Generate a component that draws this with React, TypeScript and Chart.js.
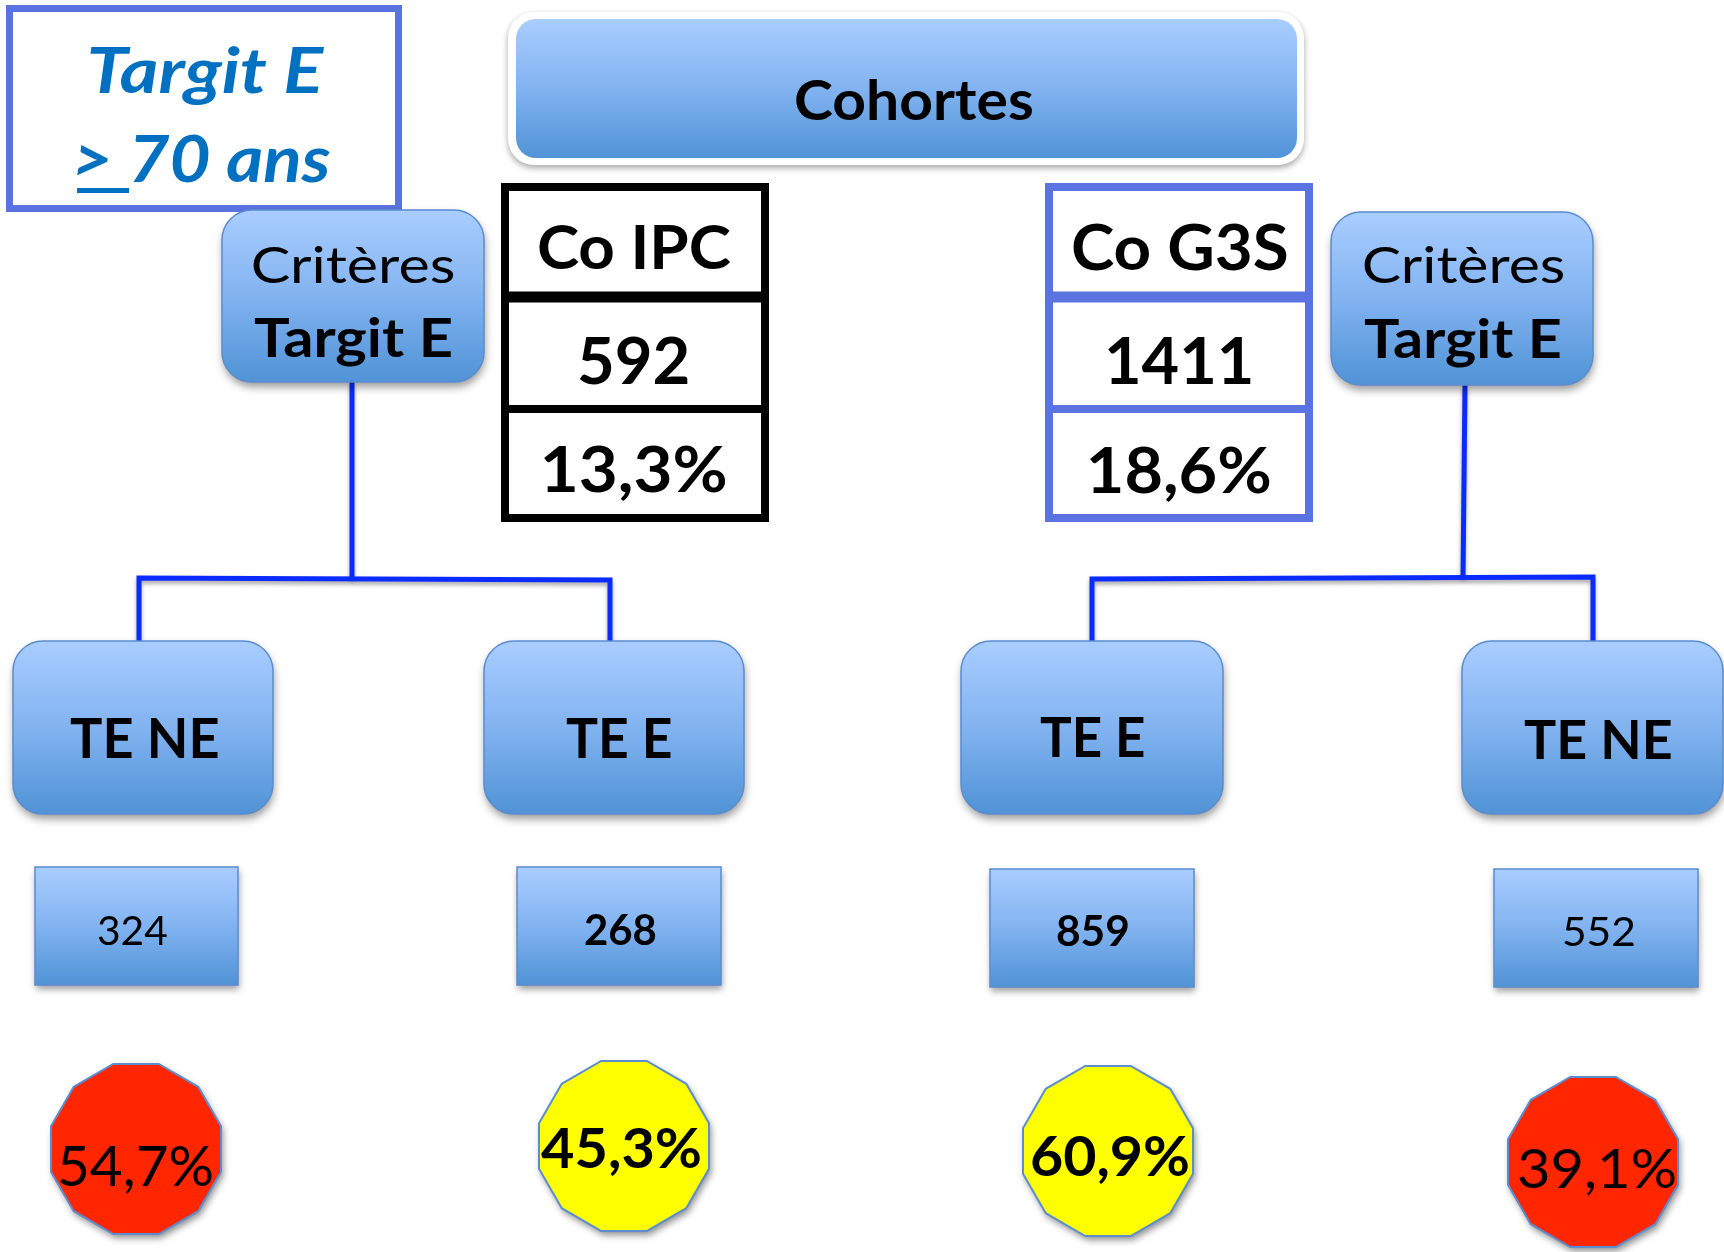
import React, { useEffect, useRef } from "react";
import { Chart, registerables } from "chart.js";

Chart.register(...registerables);

// ---------------- DATA ----------------
const headerTitle = "Cohortes";
const cornerTitle = "Targit E";
const cornerSubtitle = "> 70 ans";
const criteriaLines = ["Critères", "Targit E"];
const cohortNames = ["Co IPC", "Co G3S"];
const cohortTotals = [592, 1411];
const cohortPercents = [13.3, 18.6];
const groupLabels = ["TE NE", "TE E", "TE E", "TE NE"];
const groupCounts = [324, 268, 859, 552];
const groupPercents = [54.7, 45.3, 60.9, 39.1];

// ---------------- LAYOUT (page pixels) ----------------
const W = 1724;
const H = 1252;
const FAMILY = "Lato, 'Open Sans', sans-serif";

type Box = [number, number, number, number]; // x0, y0, x1, y1
type TBox = [number, number, number, number]; // ink x0, x1, capTop, baseline

const cornerFrame: Box = [6, 5, 402, 212];
const cornerTitleBox: TBox = [90, 325, 47, 93];
const cornerSubBox: TBox = [77, 330, 135, 182];
const cornerUnderline: Box = [77, 188, 129, 193];

const headerOuter: Box = [508, 12, 1304, 165];
const headerInner: Box = [516, 19, 1297, 158];
const headerTextBox: TBox = [796, 1032, 79, 120];

const criteriaFrames: Box[] = [
  [222, 210, 484, 382],
  [1331, 212, 1593, 385],
];
const criteriaText: TBox[][] = [
  [
    [253, 453, 246, 283],
    [254, 451, 318, 357],
  ],
  [
    [1364, 1563, 246, 283],
    [1364, 1560, 319, 358],
  ],
];

const tableX: [number, number][] = [
  [501, 769],
  [1045, 1313],
];
const tableRows = [183, 297, 409, 522];
const tableColors = ["#000000", "#5A73E1"];
const tableText: TBox[][] = [
  [
    [539, 731, 224, 269],
    [579, 688, 337, 384],
    [544, 726, 446, 492],
  ],
  [
    [1073, 1287, 224, 270],
    [1108, 1251, 337, 384],
    [1090, 1270, 447, 493],
  ],
];

const connectors: [number, number][][] = [
  [[352, 382], [352, 578]],
  [[139, 641], [139, 578], [610, 580], [610, 641]],
  [[1465, 385], [1463, 577]],
  [[1092, 641], [1092, 579], [1593, 577], [1593, 641]],
];

const groupFrames: Box[] = [
  [13, 641, 273, 814],
  [484, 641, 744, 814],
  [961, 641, 1223, 814],
  [1462, 641, 1723, 814],
];
const groupText: TBox[] = [
  [70, 218, 718, 758],
  [566, 671, 718, 758],
  [1040, 1144, 717, 757],
  [1524, 1671, 720, 759],
];
const countFrames: Box[] = [
  [35, 867, 238, 985],
  [517, 867, 721, 985],
  [990, 869, 1194, 987],
  [1494, 869, 1698, 987],
];
const countText: TBox[] = [
  [98, 167, 915, 945],
  [585, 656, 915, 945],
  [1057, 1128, 916, 946],
  [1564, 1634, 916, 946],
];
const badgeCenters: [number, number][] = [
  [136, 1149],
  [624, 1146],
  [1108, 1151],
  [1593, 1162],
];
const badgeRadius = 88;
const badgeText: TBox[] = [
  [60, 212, 1145, 1186],
  [541, 700, 1127, 1168],
  [1032, 1188, 1136, 1176],
  [1519, 1675, 1148, 1188],
];

const fmtPct = (v: number) => v.toFixed(1).replace(".", ",") + "%";
const isEligible = (label: string) => label === "TE E";

// ---------------- DRAW HELPERS ----------------
function roundRectPath(ctx: CanvasRenderingContext2D, x: number, y: number, w: number, h: number, r: number) {
  ctx.beginPath();
  ctx.moveTo(x + r, y);
  ctx.arcTo(x + w, y, x + w, y + h, r);
  ctx.arcTo(x + w, y + h, x, y + h, r);
  ctx.arcTo(x, y + h, x, y, r);
  ctx.arcTo(x, y, x + w, y, r);
  ctx.closePath();
}

function blueGradient(ctx: CanvasRenderingContext2D, y0: number, y1: number) {
  const g = ctx.createLinearGradient(0, y0, 0, y1);
  g.addColorStop(0, "#A9CDFF");
  g.addColorStop(0.5, "#82B3F0");
  g.addColorStop(1, "#5093D6");
  return g;
}

function fitText(
  ctx: CanvasRenderingContext2D,
  text: string,
  x0: number,
  x1: number,
  top: number,
  base: number,
  weight: string,
  style: string,
  color: string
) {
  ctx.save();
  ctx.font = `${style} ${weight} 100px ${FAMILY}`;
  const cap = ctx.measureText("H").actualBoundingBoxAscent || 72;
  const size = ((base - top) / cap) * 100;
  ctx.font = `${style} ${weight} ${size}px ${FAMILY}`;
  ctx.textAlign = "left";
  ctx.textBaseline = "alphabetic";
  const m = ctx.measureText(text);
  const ink = m.actualBoundingBoxLeft + m.actualBoundingBoxRight;
  const sx = ink > 0 ? (x1 - x0) / ink : 1;
  ctx.translate(x0, base);
  ctx.scale(sx, 1);
  ctx.fillStyle = color;
  ctx.fillText(text, m.actualBoundingBoxLeft, 0);
  ctx.restore();
}

function makeBadge(fill: string, r: number): HTMLCanvasElement {
  const pad = 16;
  const size = Math.ceil(2 * (r + pad));
  const c = document.createElement("canvas");
  c.width = size;
  c.height = size;
  const ctx = c.getContext("2d")!;
  const cx = size / 2;
  const cy = size / 2;
  const path = () => {
    ctx.beginPath();
    for (let k = 0; k < 12; k++) {
      const a = ((15 + 30 * k) * Math.PI) / 180;
      const x = cx + r * Math.cos(a);
      const y = cy + r * Math.sin(a);
      if (k === 0) ctx.moveTo(x, y);
      else ctx.lineTo(x, y);
    }
    ctx.closePath();
  };
  ctx.save();
  path();
  ctx.shadowColor = "rgba(0,0,0,0.45)";
  ctx.shadowBlur = 7;
  ctx.shadowOffsetX = 2;
  ctx.shadowOffsetY = 4;
  ctx.fillStyle = fill;
  ctx.fill();
  ctx.restore();
  path();
  ctx.lineWidth = 2;
  ctx.strokeStyle = "#5B8DD0";
  ctx.stroke();
  return c;
}

// ---------------- COMPONENT ----------------
export default function App() {
  const ref = useRef<HTMLCanvasElement | null>(null);

  useEffect(() => {
    document.body.style.margin = "0";
    const canvas = ref.current;
    if (!canvas) return;

    const badgeImages = groupLabels.map((l) => makeBadge(isEligible(l) ? "#FFFF00" : "#FF2600", badgeRadius));

    const diagram = {
      id: "diagram",
      beforeDatasetsDraw(chart: any) {
        const ctx: CanvasRenderingContext2D = chart.ctx;
        const X = (v: number) => chart.scales.x.getPixelForValue(v);
        const Y = (v: number) => chart.scales.y.getPixelForValue(v);
        const T = (b: TBox) => [X(b[0]), X(b[1]), Y(b[2]), Y(b[3])] as const;

        ctx.save();
        ctx.fillStyle = "#FFFFFF";
        ctx.fillRect(0, 0, chart.width, chart.height);

        // corner frame
        {
          const [x0, y0, x1, y1] = cornerFrame;
          const lw = 7;
          ctx.lineWidth = lw;
          ctx.strokeStyle = "#5A73E1";
          ctx.strokeRect(X(x0) + lw / 2, Y(y0) + lw / 2, X(x1) - X(x0) - lw, Y(y1) - Y(y0) - lw);
          const t1 = T(cornerTitleBox);
          fitText(ctx, cornerTitle, t1[0], t1[1], t1[2], t1[3], "bold", "italic", "#0070C0");
          const t2 = T(cornerSubBox);
          fitText(ctx, cornerSubtitle, t2[0], t2[1], t2[2], t2[3], "bold", "italic", "#0070C0");
          const u = cornerUnderline;
          ctx.fillStyle = "#0070C0";
          ctx.fillRect(X(u[0]), Y(u[1]), X(u[2]) - X(u[0]), Y(u[3]) - Y(u[1]));
        }

        // header
        {
          const o = headerOuter;
          ctx.save();
          roundRectPath(ctx, X(o[0]), Y(o[1]), X(o[2]) - X(o[0]), Y(o[3]) - Y(o[1]), 26);
          ctx.shadowColor = "rgba(0,0,0,0.35)";
          ctx.shadowBlur = 6;
          ctx.shadowOffsetY = 3;
          ctx.fillStyle = "#FFFFFF";
          ctx.fill();
          ctx.restore();
          const b = headerInner;
          roundRectPath(ctx, X(b[0]), Y(b[1]), X(b[2]) - X(b[0]), Y(b[3]) - Y(b[1]), 20);
          ctx.fillStyle = blueGradient(ctx, Y(b[1]), Y(b[3]));
          ctx.fill();
          const t = T(headerTextBox);
          fitText(ctx, headerTitle, t[0], t[1], t[2], t[3], "bold", "normal", "#000");
        }

        // connectors
        ctx.save();
        ctx.strokeStyle = "#0A2BFF";
        ctx.lineWidth = 5;
        ctx.lineCap = "butt";
        ctx.lineJoin = "miter";
        ctx.shadowColor = "rgba(0,0,0,0.35)";
        ctx.shadowBlur = 4;
        ctx.shadowOffsetY = 3;
        connectors.forEach((pts) => {
          ctx.beginPath();
          pts.forEach(([x, y], i) => (i === 0 ? ctx.moveTo(X(x), Y(y)) : ctx.lineTo(X(x), Y(y))));
          ctx.stroke();
        });
        ctx.restore();

        // blue rounded boxes (criteria + groups)
        const roundBox = (b: Box, r: number) => {
          const x = X(b[0]), y = Y(b[1]), w = X(b[2]) - X(b[0]), h = Y(b[3]) - Y(b[1]);
          ctx.save();
          roundRectPath(ctx, x, y, w, h, r);
          ctx.shadowColor = "rgba(0,0,0,0.4)";
          ctx.shadowBlur = 8;
          ctx.shadowOffsetX = 1;
          ctx.shadowOffsetY = 5;
          ctx.fillStyle = blueGradient(ctx, y, y + h);
          ctx.fill();
          ctx.restore();
          roundRectPath(ctx, x, y, w, h, r);
          ctx.lineWidth = 1.5;
          ctx.strokeStyle = "#5B8CCF";
          ctx.stroke();
        };

        criteriaFrames.forEach((b, i) => {
          roundBox(b, 30);
          const [a, c] = criteriaText[i];
          const ta = T(a);
          fitText(ctx, criteriaLines[0], ta[0], ta[1], ta[2], ta[3], "normal", "normal", "#000");
          const tc = T(c);
          fitText(ctx, criteriaLines[1], tc[0], tc[1], tc[2], tc[3], "bold", "normal", "#000");
        });

        // cohort tables
        tableX.forEach(([x0, x1], i) => {
          const col = tableColors[i];
          const lw = 8;
          const y0 = tableRows[0];
          const y1 = tableRows[tableRows.length - 1];
          ctx.fillStyle = "#FFFFFF";
          ctx.fillRect(X(x0), Y(y0), X(x1) - X(x0), Y(y1) - Y(y0));
          ctx.strokeStyle = col;
          ctx.lineWidth = lw;
          ctx.strokeRect(X(x0) + lw / 2, Y(y0) + lw / 2, X(x1) - X(x0) - lw, Y(y1) - Y(y0) - lw);
          [tableRows[1], tableRows[2]].forEach((ry, k) => {
            ctx.lineWidth = k === 0 ? 11 : 8;
            ctx.beginPath();
            ctx.moveTo(X(x0), Y(ry));
            ctx.lineTo(X(x1), Y(ry));
            ctx.stroke();
          });
          const texts = [cohortNames[i], String(cohortTotals[i]), fmtPct(cohortPercents[i])];
          texts.forEach((s, k) => {
            const t = T(tableText[i][k]);
            fitText(ctx, s, t[0], t[1], t[2], t[3], "bold", "normal", "#000");
          });
        });

        // groups
        groupFrames.forEach((b, i) => {
          roundBox(b, 30);
          const t = T(groupText[i]);
          fitText(ctx, groupLabels[i], t[0], t[1], t[2], t[3], "bold", "normal", "#000");
        });

        // count boxes
        countFrames.forEach((b, i) => {
          const x = X(b[0]), y = Y(b[1]), w = X(b[2]) - X(b[0]), h = Y(b[3]) - Y(b[1]);
          ctx.save();
          ctx.shadowColor = "rgba(0,0,0,0.4)";
          ctx.shadowBlur = 7;
          ctx.shadowOffsetX = 1;
          ctx.shadowOffsetY = 4;
          ctx.fillStyle = blueGradient(ctx, y, y + h);
          ctx.fillRect(x, y, w, h);
          ctx.restore();
          ctx.lineWidth = 1.5;
          ctx.strokeStyle = "#5B8CCF";
          ctx.strokeRect(x, y, w, h);
          const t = T(countText[i]);
          const wt = isEligible(groupLabels[i]) ? "bold" : "normal";
          fitText(ctx, String(groupCounts[i]), t[0], t[1], t[2], t[3], wt, "normal", "#000");
        });
        ctx.restore();
      },
      afterDatasetsDraw(chart: any) {
        const ctx: CanvasRenderingContext2D = chart.ctx;
        const X = (v: number) => chart.scales.x.getPixelForValue(v);
        const Y = (v: number) => chart.scales.y.getPixelForValue(v);
        const meta = chart.getDatasetMeta(0);
        meta.data.forEach((_el: any, i: number) => {
          const b = badgeText[i];
          const wt = isEligible(groupLabels[i]) ? "bold" : "normal";
          fitText(ctx, fmtPct(groupPercents[i]), X(b[0]), X(b[1]), Y(b[2]), Y(b[3]), wt, "normal", "#000");
        });
      },
    };

    const chart = new Chart(canvas, {
      type: "scatter",
      data: {
        datasets: [
          {
            label: "Pourcentage",
            data: groupPercents.map((p, i) => ({ x: badgeCenters[i][0], y: badgeCenters[i][1], v: p })) as any,
            pointStyle: badgeImages as any,
            pointRadius: 10,
            pointHoverRadius: 10,
            clip: false as any,
          },
        ],
      },
      options: {
        animation: false,
        responsive: false,
        events: [],
        layout: { padding: 0, autoPadding: false },
        plugins: { legend: { display: false }, tooltip: { enabled: false } },
        scales: {
          x: { type: "linear", min: 0, max: W, display: false },
          y: { type: "linear", min: 0, max: H, reverse: true, display: false },
        },
      },
      plugins: [diagram as any],
    });

    const fonts = [
      `normal 40px Lato`,
      `bold 40px Lato`,
      `italic bold 40px Lato`,
    ];
    Promise.all(fonts.map((f) => (document as any).fonts.load(f)))
      .then(() => chart.update("none"))
      .catch(() => {});

    return () => chart.destroy();
  }, []);

  return (
    <div style={{ position: "absolute", left: 0, top: 0, width: W, height: H }}>
      <canvas ref={ref} width={W} height={H} style={{ display: "block", width: W, height: H }} />
    </div>
  );
}
